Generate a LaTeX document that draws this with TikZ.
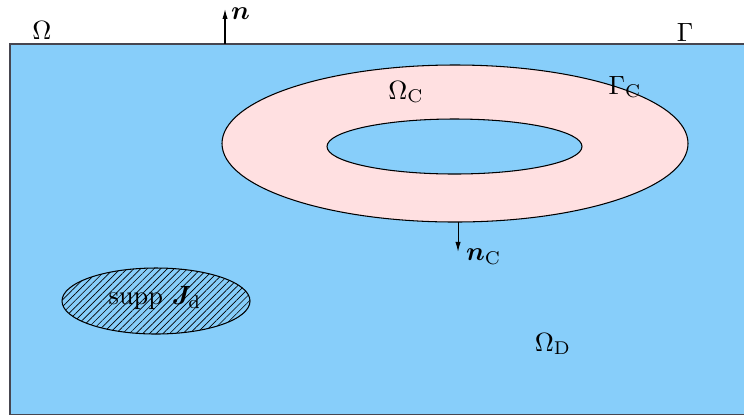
\documentclass[tikz,border=0pt]{standalone}
\usepackage{xcolor}
\usepackage{amsmath}
\usepackage{bm}
\usepackage{tikz}
\usetikzlibrary{arrows.meta, patterns.meta}
\definecolor{myblue}{RGB}{135,206,250}
\definecolor{mypink}{RGB}{255,224,225}
\definecolor{mygray}{RGB}{70,70,80}
\tikzset{
  domainbox/.style={fill=myblue, draw=mygray, line width=0.5pt},
  condfill/.style={fill=mypink, draw=black, line width=0.4pt},
  holefill/.style={fill=myblue, draw=black, line width=0.4pt},
  srcfill/.style={pattern={Lines[angle=45, distance=1.8pt, line width=0.25pt]},
    draw=black, line width=0.4pt},
  normalarrow/.style={-{Latex[length=3.8pt, width=2pt]}, line width=0.4pt},
  lbl/.style={font=\normalsize, inner sep=1pt}
}
\begin{document}
\begin{tikzpicture}[scale=2/3]
  \useasboundingbox (0,0) rectangle (14.88,8.32);

  % Domain Omega
  \draw[domainbox] (0.2,0.03) rectangle (15.2,7.44);
  \node[lbl] (omega) at (0.84,7.72) {$\Omega$};
  \node[lbl] (gamma) at (13.70,7.68) {$\Gamma$};

  % Conductor
  \draw[condfill] (9.10,5.45) ellipse [x radius=4.66, y radius=1.57];
  \draw[holefill] (9.09,5.39) ellipse [x radius=2.55, y radius=0.55];
  \node[lbl] (omegaC) at (8.12,6.48) {$\Omega_{\mathrm{C}}$};
  \node[lbl] (gammaC) at (12.50,6.58) {$\Gamma_{\mathrm{C}}$};

  % Source support
  \draw[srcfill] (3.12,2.30) ellipse [x radius=1.88, y radius=0.66];
  \node[lbl] (supp) at (3.10,2.36) {supp $\bm{J}_{\mathrm{d}}$};

  \node[lbl] (omegaD) at (11.06,1.44) {$\Omega_{\mathrm{D}}$};

  % Normal vectors
  \coordinate (nbase) at (4.5,7.44);
  \coordinate (ntip) at (4.5,8.14);
  \draw[normalarrow] (nbase) -- (ntip);
  \node[lbl, anchor=west] (n) at (4.56,8.05) {$\bm{n}$};

  \coordinate (ncbase) at (9.16,3.88);
  \coordinate (nctip) at (9.16,3.28);
  \draw[normalarrow] (ncbase) -- (nctip);
  \node[lbl, anchor=west] (nC) at (9.26,3.18) {$\bm{n}_{\mathrm{C}}$};
\end{tikzpicture}
\end{document}
